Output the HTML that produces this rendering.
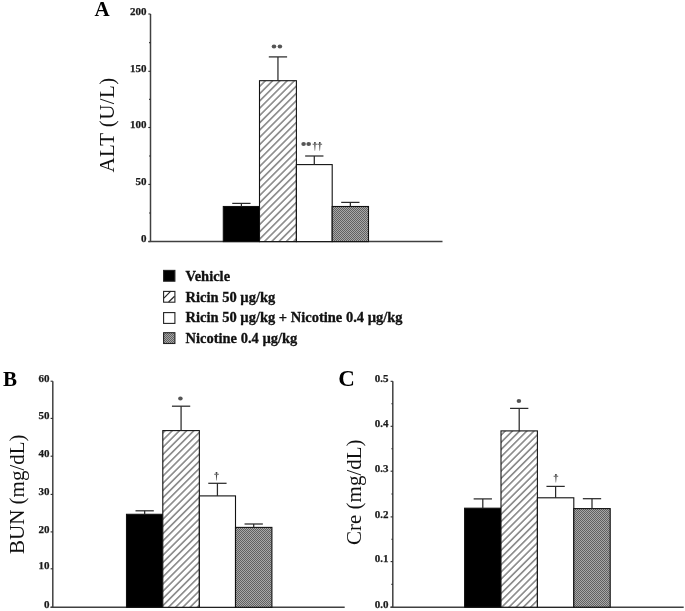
<!DOCTYPE html>
<html><head><meta charset="utf-8"><style>
html,body{margin:0;padding:0;background:#fff;}
body{width:685px;height:611px;overflow:hidden;}
svg{display:block;filter:grayscale(1);}
.ax{stroke:#404040;stroke-width:1.5;}
.tk{stroke:#2a2a2a;stroke-width:1.1;}
.eb{stroke:#2a2a2a;stroke-width:1.25;}
.bar{stroke:#111;stroke-width:1.1;}
.tl{font-family:"Liberation Serif",serif;font-weight:bold;font-size:11px;text-anchor:end;fill:#1a1a1a;stroke:#1a1a1a;stroke-width:0.25;}
.pl{font-family:"Liberation Serif",serif;font-weight:bold;font-size:21px;fill:#000;}
.yt{font-family:"Liberation Serif",serif;font-size:21px;fill:#111;}
.lg{font-family:"Liberation Serif",serif;font-weight:bold;font-size:14.5px;fill:#111;stroke:#111;stroke-width:0.3;}
</style></head><body>
<svg width="685" height="611" viewBox="0 0 685 611">
<defs>
<pattern id="hatchA" patternUnits="userSpaceOnUse" width="5.14" height="5.14" patternTransform="rotate(45) translate(-2.0,0)">
<rect width="5.14" height="5.14" fill="#fff"/>
<line x1="0" y1="0" x2="0" y2="5.14" stroke="#2a2a2a" stroke-width="0.9"/>
<line x1="5.14" y1="0" x2="5.14" y2="5.14" stroke="#2a2a2a" stroke-width="0.9"/>
</pattern>
<pattern id="hatchB" patternUnits="userSpaceOnUse" width="5.09" height="5.09" patternTransform="rotate(45) translate(-1.2,0)">
<rect width="5.09" height="5.09" fill="#fff"/>
<line x1="0" y1="0" x2="0" y2="5.09" stroke="#2a2a2a" stroke-width="0.9"/>
<line x1="5.09" y1="0" x2="5.09" y2="5.09" stroke="#2a2a2a" stroke-width="0.9"/>
</pattern>
<pattern id="hatchC" patternUnits="userSpaceOnUse" width="5.09" height="5.09" patternTransform="rotate(45) translate(0.3,0)">
<rect width="5.09" height="5.09" fill="#fff"/>
<line x1="0" y1="0" x2="0" y2="5.09" stroke="#2a2a2a" stroke-width="0.9"/>
<line x1="5.09" y1="0" x2="5.09" y2="5.09" stroke="#2a2a2a" stroke-width="0.9"/>
</pattern>
<pattern id="dots" patternUnits="userSpaceOnUse" width="2" height="2">
<rect width="2" height="2" fill="#a8a8a8"/>
<rect width="1" height="1" fill="#606060"/>
<rect x="1" y="1" width="1" height="1" fill="#606060"/>
</pattern>
</defs>
<rect width="685" height="611" fill="#fff"/>

<line x1="150.5" y1="14.0" x2="150.5" y2="241.6" class="ax"/>
<line x1="148.3" y1="14.0" x2="150.5" y2="14.0" class="tk"/>
<line x1="148.3" y1="71.3" x2="150.5" y2="71.3" class="tk"/>
<line x1="148.3" y1="127.5" x2="150.5" y2="127.5" class="tk"/>
<line x1="148.3" y1="184.4" x2="150.5" y2="184.4" class="tk"/>
<line x1="148.3" y1="241.6" x2="150.5" y2="241.6" class="tk"/>
<line x1="149.1" y1="42.65" x2="150.5" y2="42.65" class="tk"/>
<line x1="149.1" y1="99.4" x2="150.5" y2="99.4" class="tk"/>
<line x1="149.1" y1="155.95" x2="150.5" y2="155.95" class="tk"/>
<line x1="149.1" y1="213.0" x2="150.5" y2="213.0" class="tk"/>
<text x="146.6" y="14.60" class="tl">200</text>
<text x="146.6" y="71.90" class="tl">150</text>
<text x="146.6" y="128.10" class="tl">100</text>
<text x="146.6" y="185.00" class="tl">50</text>
<text x="146.6" y="242.20" class="tl">0</text>
<line x1="148.4" y1="241.6" x2="442.5" y2="241.6" class="ax"/>
<rect x="223.30" y="206.50" width="36.20" height="35.10" fill="#000" class="bar"/>
<rect x="259.50" y="80.70" width="36.90" height="160.90" fill="url(#hatchA)" class="bar"/>
<rect x="296.40" y="164.60" width="35.80" height="77.00" fill="#fff" class="bar"/>
<rect x="332.20" y="206.50" width="36.30" height="35.10" fill="url(#dots)" class="bar"/>
<line x1="241.40" y1="203.4" x2="241.40" y2="206.5" class="eb"/>
<line x1="232.25" y1="203.4" x2="250.55" y2="203.4" class="eb"/>
<line x1="277.95" y1="56.9" x2="277.95" y2="80.7" class="eb"/>
<line x1="268.80" y1="56.9" x2="287.10" y2="56.9" class="eb"/>
<line x1="314.30" y1="156.0" x2="314.30" y2="164.6" class="eb"/>
<line x1="305.15" y1="156.0" x2="323.45" y2="156.0" class="eb"/>
<line x1="350.35" y1="202.4" x2="350.35" y2="206.5" class="eb"/>
<line x1="341.20" y1="202.4" x2="359.50" y2="202.4" class="eb"/>
<ellipse cx="274.0" cy="46.5" rx="2.3" ry="2.0" fill="#555"/>
<ellipse cx="279.9" cy="46.5" rx="2.3" ry="2.0" fill="#555"/>
<ellipse cx="303.6" cy="143.9" rx="2.3" ry="2.0" fill="#555"/>
<ellipse cx="308.7" cy="143.9" rx="2.3" ry="2.0" fill="#555"/>
<path d="M314.05 141.90 L315.75 141.90 L315.10 150.80 L314.70 150.80 Z" fill="#444"/>
<rect x="312.60" y="143.68" width="4.6" height="1.2" fill="#777"/>
<path d="M318.95 141.90 L320.65 141.90 L320.00 150.80 L319.60 150.80 Z" fill="#444"/>
<rect x="317.50" y="143.68" width="4.6" height="1.2" fill="#777"/>
<text x="94.5" y="15.7" class="pl">A</text>
<text transform="translate(113.5,172.6) rotate(-90)" class="yt" style="letter-spacing:0.4px">ALT (U/L)</text>
<rect x="163.6" y="270.4" width="11.3" height="10.8" fill="#000" stroke="#222" stroke-width="1.1"/>
<text x="185.5" y="281.0" class="lg">Vehicle</text>
<rect x="163.6" y="291.4" width="11.3" height="10.8" fill="#fff" stroke="#222" stroke-width="1.1"/>
<text x="185.5" y="301.5" class="lg">Ricin 50 &#181;g/kg</text>
<rect x="163.6" y="312.6" width="11.3" height="10.8" fill="#fff" stroke="#222" stroke-width="1.1"/>
<text x="185.5" y="322.3" class="lg">Ricin 50 &#181;g/kg + Nicotine 0.4 &#181;g/kg</text>
<rect x="163.6" y="332.7" width="11.3" height="10.8" fill="url(#dots)" stroke="#222" stroke-width="1.1"/>
<text x="185.5" y="342.7" class="lg">Nicotine 0.4 &#181;g/kg</text>
<line x1="163.9" y1="298.2" x2="170.8" y2="291.2" stroke="#262626" stroke-width="1.2"/>
<line x1="168.6" y1="302.0" x2="174.6" y2="296.3" stroke="#262626" stroke-width="1.2"/>
<line x1="52.8" y1="381.2" x2="52.8" y2="607.3" class="ax"/>
<line x1="50.599999999999994" y1="381.2" x2="52.8" y2="381.2" class="tk"/>
<line x1="50.599999999999994" y1="418.4" x2="52.8" y2="418.4" class="tk"/>
<line x1="50.599999999999994" y1="456.2" x2="52.8" y2="456.2" class="tk"/>
<line x1="50.599999999999994" y1="494.4" x2="52.8" y2="494.4" class="tk"/>
<line x1="50.599999999999994" y1="531.9" x2="52.8" y2="531.9" class="tk"/>
<line x1="50.599999999999994" y1="568.8" x2="52.8" y2="568.8" class="tk"/>
<line x1="50.599999999999994" y1="607.3" x2="52.8" y2="607.3" class="tk"/>
<text x="49.6" y="381.80" class="tl">60</text>
<text x="49.6" y="419.00" class="tl">50</text>
<text x="49.6" y="456.80" class="tl">40</text>
<text x="49.6" y="495.00" class="tl">30</text>
<text x="49.6" y="532.50" class="tl">20</text>
<text x="49.6" y="569.40" class="tl">10</text>
<text x="49.6" y="607.90" class="tl">0</text>
<line x1="50.6" y1="607.3" x2="344.7" y2="607.3" class="ax"/>
<rect x="126.50" y="514.30" width="36.30" height="93.00" fill="#000" class="bar"/>
<rect x="162.80" y="430.60" width="36.55" height="176.70" fill="url(#hatchB)" class="bar"/>
<rect x="199.35" y="495.90" width="36.15" height="111.40" fill="#fff" class="bar"/>
<rect x="235.50" y="527.40" width="36.40" height="79.90" fill="url(#dots)" class="bar"/>
<line x1="144.65" y1="510.8" x2="144.65" y2="514.3" class="eb"/>
<line x1="135.50" y1="510.8" x2="153.80" y2="510.8" class="eb"/>
<line x1="181.08" y1="406.2" x2="181.08" y2="430.6" class="eb"/>
<line x1="171.93" y1="406.2" x2="190.23" y2="406.2" class="eb"/>
<line x1="217.42" y1="483.3" x2="217.42" y2="495.9" class="eb"/>
<line x1="208.27" y1="483.3" x2="226.57" y2="483.3" class="eb"/>
<line x1="253.70" y1="524.0" x2="253.70" y2="527.4" class="eb"/>
<line x1="244.55" y1="524.0" x2="262.85" y2="524.0" class="eb"/>
<ellipse cx="180.4" cy="398.4" rx="2.3" ry="2.0" fill="#555"/>
<path d="M215.65 472.00 L217.35 472.00 L216.70 480.50 L216.30 480.50 Z" fill="#444"/>
<rect x="214.20" y="473.70" width="4.6" height="1.2" fill="#777"/>
<text x="3.0" y="385.6" class="pl">B</text>
<text transform="translate(24.1,554) rotate(-90)" class="yt">BUN (mg/dL)</text>
<line x1="392.8" y1="381.3" x2="392.8" y2="607.2" class="ax"/>
<line x1="390.6" y1="381.3" x2="392.8" y2="381.3" class="tk"/>
<line x1="390.6" y1="426.3" x2="392.8" y2="426.3" class="tk"/>
<line x1="390.6" y1="471.2" x2="392.8" y2="471.2" class="tk"/>
<line x1="390.6" y1="516.9" x2="392.8" y2="516.9" class="tk"/>
<line x1="390.6" y1="561.6" x2="392.8" y2="561.6" class="tk"/>
<line x1="390.6" y1="607.2" x2="392.8" y2="607.2" class="tk"/>
<line x1="391.40000000000003" y1="403.8" x2="392.8" y2="403.8" class="tk"/>
<line x1="391.40000000000003" y1="448.75" x2="392.8" y2="448.75" class="tk"/>
<line x1="391.40000000000003" y1="494.04999999999995" x2="392.8" y2="494.04999999999995" class="tk"/>
<line x1="391.40000000000003" y1="539.25" x2="392.8" y2="539.25" class="tk"/>
<line x1="391.40000000000003" y1="584.4000000000001" x2="392.8" y2="584.4000000000001" class="tk"/>
<text x="388.4" y="381.90" class="tl">0.5</text>
<text x="388.4" y="426.90" class="tl">0.4</text>
<text x="388.4" y="471.80" class="tl">0.3</text>
<text x="388.4" y="517.50" class="tl">0.2</text>
<text x="388.4" y="562.20" class="tl">0.1</text>
<text x="388.4" y="607.80" class="tl">0.0</text>
<line x1="390.5" y1="607.2" x2="683.7" y2="607.2" class="ax"/>
<rect x="464.60" y="508.20" width="36.40" height="99.00" fill="#000" class="bar"/>
<rect x="501.00" y="430.90" width="36.40" height="176.30" fill="url(#hatchC)" class="bar"/>
<rect x="537.40" y="497.80" width="36.40" height="109.40" fill="#fff" class="bar"/>
<rect x="573.80" y="508.60" width="36.40" height="98.60" fill="url(#dots)" class="bar"/>
<line x1="482.80" y1="498.9" x2="482.80" y2="508.2" class="eb"/>
<line x1="473.65" y1="498.9" x2="491.95" y2="498.9" class="eb"/>
<line x1="519.20" y1="408.4" x2="519.20" y2="430.9" class="eb"/>
<line x1="510.05" y1="408.4" x2="528.35" y2="408.4" class="eb"/>
<line x1="555.60" y1="486.4" x2="555.60" y2="497.8" class="eb"/>
<line x1="546.45" y1="486.4" x2="564.75" y2="486.4" class="eb"/>
<line x1="592.00" y1="498.7" x2="592.00" y2="508.6" class="eb"/>
<line x1="582.85" y1="498.7" x2="601.15" y2="498.7" class="eb"/>
<ellipse cx="518.9" cy="401.0" rx="2.3" ry="2.0" fill="#555"/>
<path d="M555.05 474.00 L556.75 474.00 L556.10 482.50 L555.70 482.50 Z" fill="#444"/>
<rect x="553.60" y="475.70" width="4.6" height="1.2" fill="#777"/>
<text x="338.3" y="385.6" class="pl" style="font-size:23px">C</text>
<text transform="translate(361,545) rotate(-90)" class="yt">Cre (mg/dL)</text>
</svg></body></html>
